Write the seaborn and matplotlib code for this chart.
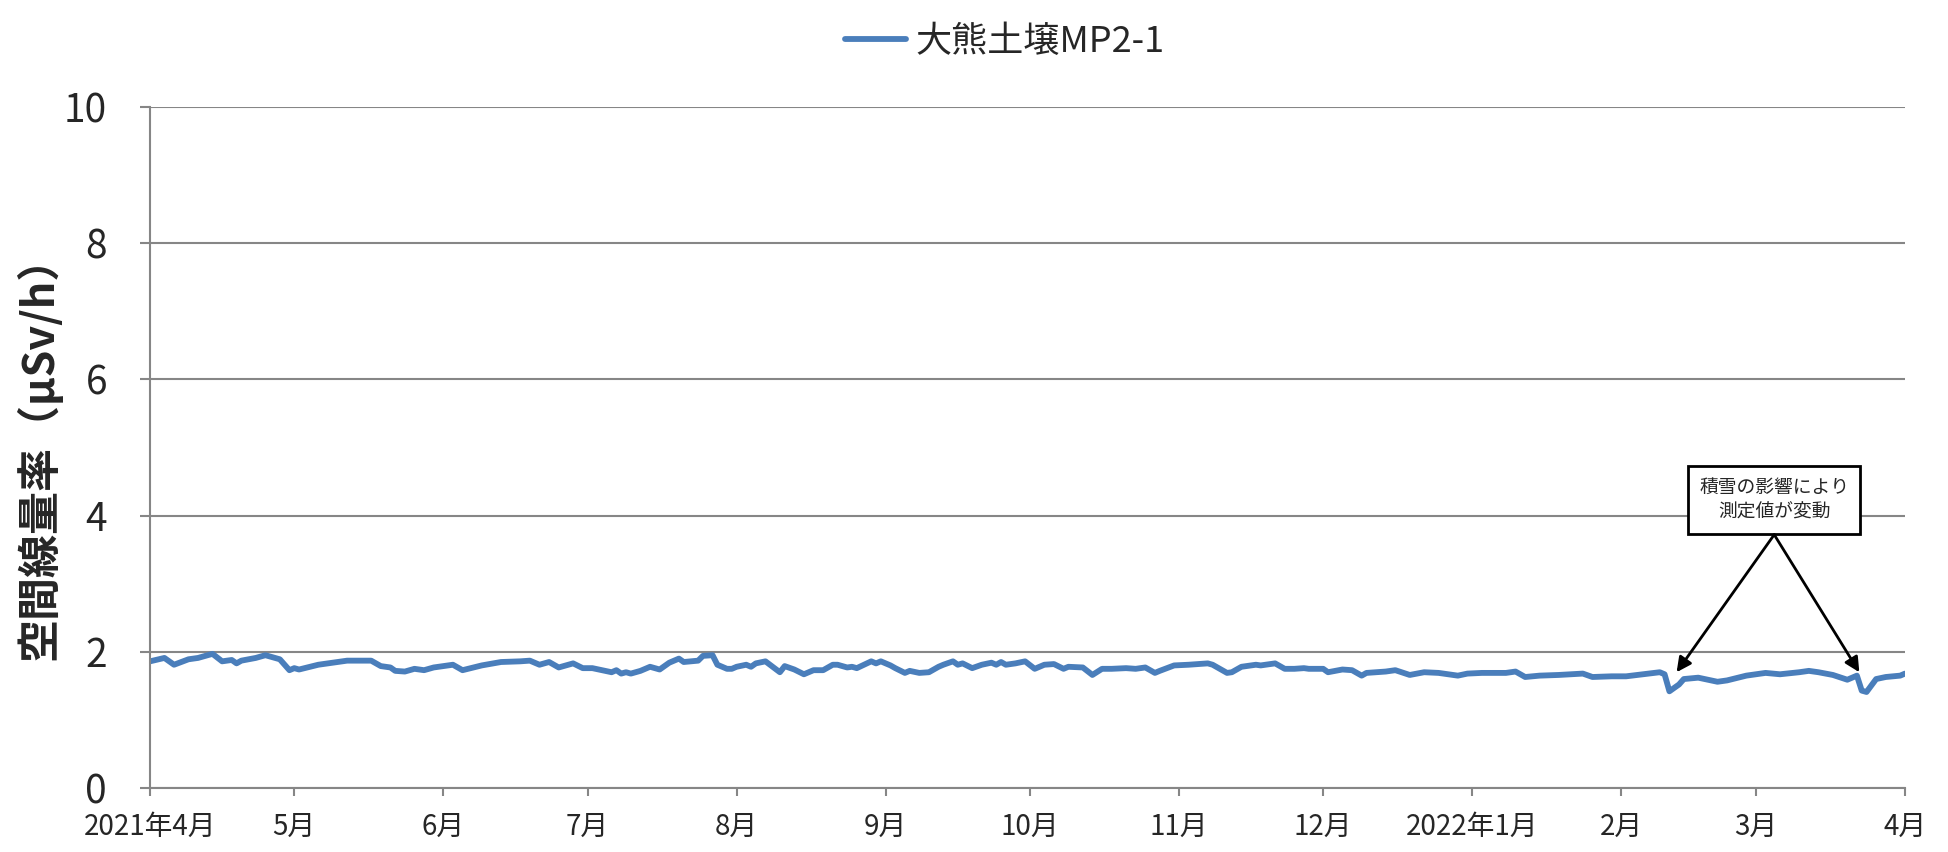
import numpy as np
import pandas as pd
import matplotlib
matplotlib.use("Agg")
import matplotlib.pyplot as plt
import matplotlib.dates as mdates
import seaborn as sns

# ---- data ----
start_date = "2021-04-01"
day_offset = [0, 3, 5, 8, 10, 13, 15, 17, 18, 19, 22, 24, 27, 29, 30, 31, 35, 38, 41, 46,
              48, 50, 51, 53, 55, 57, 59, 60, 63, 65, 69, 73, 77, 79, 81, 83, 85, 88, 90, 92,
              96, 97, 98, 99, 100, 102, 104, 106, 108, 110, 111, 114, 115, 117, 118, 120, 121, 122, 124, 125,
              126, 128, 131, 132, 134, 136, 138, 140, 142, 143, 145, 146, 147, 150, 151, 152, 154, 155, 157, 158,
              160, 162, 164, 165, 167, 168, 169, 171, 173, 175, 176, 177, 178, 180, 182, 184, 186, 188, 190, 191,
              194, 196, 198, 200, 203, 205, 207, 209, 210, 213, 216, 220, 221, 224, 225, 227, 230, 231, 234, 236,
              238, 240, 241, 244, 245, 248, 250, 252, 253, 257, 259, 262, 265, 268, 272, 274, 277, 282, 284, 286,
              289, 293, 298, 300, 304, 307, 314, 315, 316, 318, 319, 322, 326, 328, 332, 336, 339, 343, 345, 347,
              350, 353, 355, 356, 357, 359, 361, 364, 365]
dose_rate = [1.86, 1.91, 1.81, 1.89, 1.91, 1.97, 1.86, 1.88, 1.83, 1.87, 1.91, 1.95, 1.89, 1.73, 1.76, 1.74, 1.81, 1.84, 1.87, 1.87,
             1.79, 1.77, 1.72, 1.71, 1.75, 1.73, 1.77, 1.78, 1.81, 1.73, 1.80, 1.85, 1.86, 1.87, 1.81, 1.85, 1.77, 1.83, 1.76, 1.76,
             1.70, 1.73, 1.68, 1.70, 1.68, 1.72, 1.78, 1.74, 1.84, 1.90, 1.85, 1.87, 1.94, 1.95, 1.81, 1.75, 1.75, 1.78, 1.81, 1.78,
             1.83, 1.86, 1.70, 1.79, 1.74, 1.67, 1.73, 1.73, 1.81, 1.81, 1.77, 1.78, 1.76, 1.86, 1.83, 1.86, 1.80, 1.76, 1.69, 1.72,
             1.69, 1.70, 1.78, 1.81, 1.86, 1.81, 1.83, 1.76, 1.81, 1.84, 1.81, 1.85, 1.81, 1.83, 1.86, 1.75, 1.81, 1.82, 1.75, 1.78,
             1.77, 1.66, 1.75, 1.75, 1.76, 1.75, 1.77, 1.69, 1.72, 1.80, 1.81, 1.83, 1.81, 1.69, 1.70, 1.78, 1.81, 1.80, 1.83, 1.75,
             1.75, 1.76, 1.75, 1.75, 1.70, 1.74, 1.73, 1.65, 1.69, 1.71, 1.73, 1.66, 1.70, 1.69, 1.65, 1.68, 1.69, 1.69, 1.71, 1.63,
             1.65, 1.66, 1.68, 1.63, 1.64, 1.64, 1.70, 1.67, 1.42, 1.52, 1.60, 1.62, 1.56, 1.58, 1.65, 1.69, 1.67, 1.70, 1.72, 1.70,
             1.66, 1.59, 1.65, 1.43, 1.41, 1.60, 1.63, 1.65, 1.68]
series_name = "大熊土壌MP2-1"
month_starts = ["2021-04-01", "2021-05-01", "2021-06-01", "2021-07-01", "2021-08-01", "2021-09-01",
                "2021-10-01", "2021-11-01", "2021-12-01", "2022-01-01", "2022-02-01", "2022-03-01", "2022-04-01"]
month_labels = ["2021年4月", "5月", "6月", "7月", "8月", "9月", "10月", "11月", "12月",
                "2022年1月", "2月", "3月", "4月"]
y_ticks = [0, 2, 4, 6, 8, 10]
y_label = "空間線量率（μSv/h）"
note_text = "積雪の影響により\n測定値が変動"

# ---- build frame ----
dates = pd.Timestamp(start_date) + pd.to_timedelta(day_offset, unit="D")
df = pd.DataFrame({"date": dates, "value": dose_rate, "series": series_name})

sns.set_theme(style="white")
plt.rcParams["font.family"] = ["Noto Sans CJK JP", "DejaVu Sans"]

fig = plt.figure(figsize=(19.49, 8.52), dpi=100)
ax = fig.add_axes([150 / 1949, 64 / 852, 1755 / 1949, 681 / 852])

line_color = "#4A7EBB"
grid_color = "#868686"

sns.lineplot(data=df, x="date", y="value", hue="series", palette=[line_color],
             linewidth=4.2, ax=ax, legend=True)

ax.set_xlim(pd.Timestamp(month_starts[0]), pd.Timestamp(month_starts[-1]))
ax.set_ylim(y_ticks[0], y_ticks[-1])
ax.set_yticks(y_ticks)
ax.set_yticklabels([str(t) for t in y_ticks])
ax.set_xticks([pd.Timestamp(d) for d in month_starts])
ax.set_xticklabels(month_labels)

ax.yaxis.grid(True, color=grid_color, linewidth=1.5)
ax.xaxis.grid(False)
ax.set_axisbelow(True)
for s in ["top", "right"]:
    ax.spines[s].set_visible(False)
for s in ["left", "bottom"]:
    ax.spines[s].set_color(grid_color)
    ax.spines[s].set_linewidth(1.5)

ax.tick_params(axis="y", which="major", direction="out", length=7, width=1.5,
               color=grid_color, labelsize=28, pad=24, left=True)
ax.tick_params(axis="x", which="major", direction="out", length=6, width=1.5,
               color=grid_color, labelsize=20, pad=11, bottom=True)

ax.set_xlabel("")
ax.set_ylabel(y_label, fontsize=31, fontweight="bold", labelpad=2)

leg = ax.legend(loc="upper center", bbox_to_anchor=(0.487, 1.17), frameon=False,
                fontsize=26, handlelength=1.7, handletextpad=0.25)
for h in leg.get_lines():
    h.set_linewidth(4.2)

# ---- annotation ----
box_x = pd.Timestamp(start_date) + pd.Timedelta(days=337.8)
ax.text(box_x, 4.23, note_text, ha="center", va="center", fontsize=13.5, style="italic",
        linespacing=1.2,
        bbox=dict(boxstyle="square,pad=0.6", facecolor="white", edgecolor="black", linewidth=2))
dip_idx = [i for i, v in enumerate(dose_rate) if v < 1.45]
targets = [dip_idx[0], dip_idx[-1]]
for i, dx in zip(targets, [1.5, -1.5]):
    ax.annotate("", xy=(dates[i] + pd.Timedelta(days=dx), 1.70), xytext=(box_x, 3.72),
                arrowprops=dict(arrowstyle="-|>", color="black", lw=2, mutation_scale=22,
                                shrinkA=0, shrinkB=0))

fig.savefig("out.png", dpi=100)
